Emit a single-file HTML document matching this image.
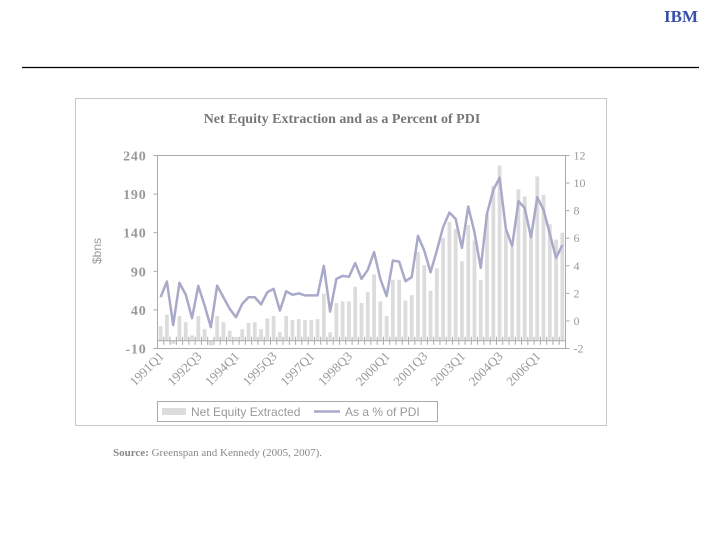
<!DOCTYPE html>
<html><head><meta charset="utf-8"><style>
html,body{margin:0;padding:0;background:#fff;}
body{width:720px;height:540px;overflow:hidden;position:relative;}
svg{position:absolute;left:0;top:0;}
</style></head><body>
<svg id="chart" width="720" height="540" xmlns="http://www.w3.org/2000/svg">
<text x="681" y="22" text-anchor="middle" font-family="Liberation Serif, serif" font-weight="bold" font-size="17" fill="#3a4fa8">IBM</text>
<line x1="22" y1="67.5" x2="699" y2="67.5" stroke="#000" stroke-width="1.2"/>
<rect x="75.5" y="98.5" width="531" height="327" fill="#fff" stroke="#c8c8c8"/>
<text x="342" y="123" text-anchor="middle" font-family="Liberation Serif, serif" font-weight="bold" font-size="14" fill="#777">Net Equity Extraction and as a Percent of PDI</text>
<text transform="translate(101,251) rotate(-90)" text-anchor="middle" font-family="Liberation Sans, sans-serif" font-size="12" fill="#999">$bns</text>
<rect x="157.5" y="155.5" width="408" height="193" fill="none" stroke="#aaa"/>
<g id="g"></g>
<rect x="157.5" y="401.5" width="280" height="20" fill="#fff" stroke="#aaa"/>
<rect x="162" y="408" width="24" height="7" fill="#dcdcdc"/>
<text x="191" y="416" font-family="Liberation Sans, sans-serif" font-size="12" fill="#999">Net Equity Extracted</text>
<line x1="314" y1="411.5" x2="340" y2="411.5" stroke="#a9a9c9" stroke-width="2.5"/>
<text x="345" y="416" font-family="Liberation Sans, sans-serif" font-size="12" fill="#999">As a % of PDI</text>
<text x="113" y="456" font-family="Liberation Serif, serif" font-size="11" fill="#888"><tspan font-weight="bold">Source:</tspan> Greenspan and Kennedy (2005, 2007).</text>
</svg>
<script>
const equity=[19,34,-4,32,24,7,32,15,-6,32,24,13,5,15,23,24,15,29,32,11,32,27,28,27,27,28,61,11,49,51,51,70,49,63,86,51,32,79,79,52,59,115,98,65,94,133,154,145,103,150,130,79,164,201,227,143,121,196,187,139,213,189,151,131,140];
const pct=[1.72,2.86,-0.3,2.76,1.91,0.2,2.54,1.12,-0.45,2.56,1.72,0.88,0.27,1.24,1.72,1.72,1.2,2.08,2.33,0.75,2.15,1.9,2.0,1.85,1.85,1.85,4.0,0.68,3.05,3.27,3.2,4.2,3.05,3.7,5.0,3.05,1.8,4.38,4.3,2.88,3.17,6.17,5.1,3.53,5.1,6.8,7.86,7.4,5.3,8.3,6.43,3.85,7.8,9.5,10.38,6.68,5.42,8.68,8.2,6.07,8.97,8.06,6.32,4.58,5.5];
const leftTicks=[240,190,140,90,40,-10];
const rightTicks=[12,10,8,6,4,2,0,-2];
const quarterLabels=["1991Q1","1992Q3","1994Q1","1995Q3","1997Q1","1998Q3","2000Q1","2001Q3","2003Q1","2004Q3","2006Q1"];
const labelEvery=6;
const NS="http://www.w3.org/2000/svg";
const g=document.getElementById('g');
const X0=157.5,X1=565.5,Y0=155.5,Y1=348.5;
const n=equity.length,bw=(X1-X0)/n;
const yL=v=>Y1-(v+10)/250*(Y1-Y0);
const yR=v=>Y1-(v+2)/14*(Y1-Y0);
const xC=i=>X0+bw*(i+0.5);
function mk(t,a){const e=document.createElementNS(NS,t);for(const k in a)e.setAttribute(k,a[k]);g.appendChild(e);return e;}
leftTicks.forEach(v=>{
 const t=mk('text',{x:X0-11,y:yL(v)+5,'text-anchor':'end','font-family':'Liberation Serif, serif','font-size':'14','font-weight':'bold',fill:'#999','letter-spacing':'0.8'});
 t.textContent=v;
 
 
 const l=mk('line',{x1:X0-4,x2:X0,y1:yL(v),y2:yL(v),stroke:'#aaa'});
 
 
});
rightTicks.forEach(v=>{
 const t=mk('text',{x:X1+8,y:yR(v)+4,'font-family':'Liberation Serif, serif','font-size':'12',fill:'#999'});
 t.textContent=v;
 
 
 const l=mk('line',{x1:X1,x2:X1+4,y1:yR(v),y2:yR(v),stroke:'#aaa'});
 
 
});
equity.forEach((v,i)=>{
 const y0=yL(0),y=yL(v);
 const r=mk('rect',{x:xC(i)-bw*0.3,width:bw*0.6,y:Math.min(y,y0),height:Math.abs(y0-y),fill:'#dcdcdc'});
 
 
});
const zl=mk('line',{x1:X0,x2:X1,y1:yL(0),y2:yL(0),stroke:'#aaa'});


for(let i=0;i<=n;i++){
 const tk=mk('line',{x1:X0+bw*i,x2:X0+bw*i,y1:yL(0)-4,y2:yL(0)+4,stroke:'#aaa'});
 
 
}
quarterLabels.forEach((s,k)=>{
 const x=xC(k*labelEvery)+4,y=357;
 const t=mk('text',{x:x,y:y,'text-anchor':'end','font-family':'Liberation Serif, serif','font-size':'13',fill:'#999',transform:`rotate(-45 ${x} ${y})`});
 t.textContent=s;
 
 
});
const p=mk('polyline',{points:pct.map((v,i)=>xC(i)+','+yR(v)).join(' '),fill:'none',stroke:'#a9a9c9','stroke-width':'2.5','stroke-linejoin':'round'});


</script>
</body></html>
